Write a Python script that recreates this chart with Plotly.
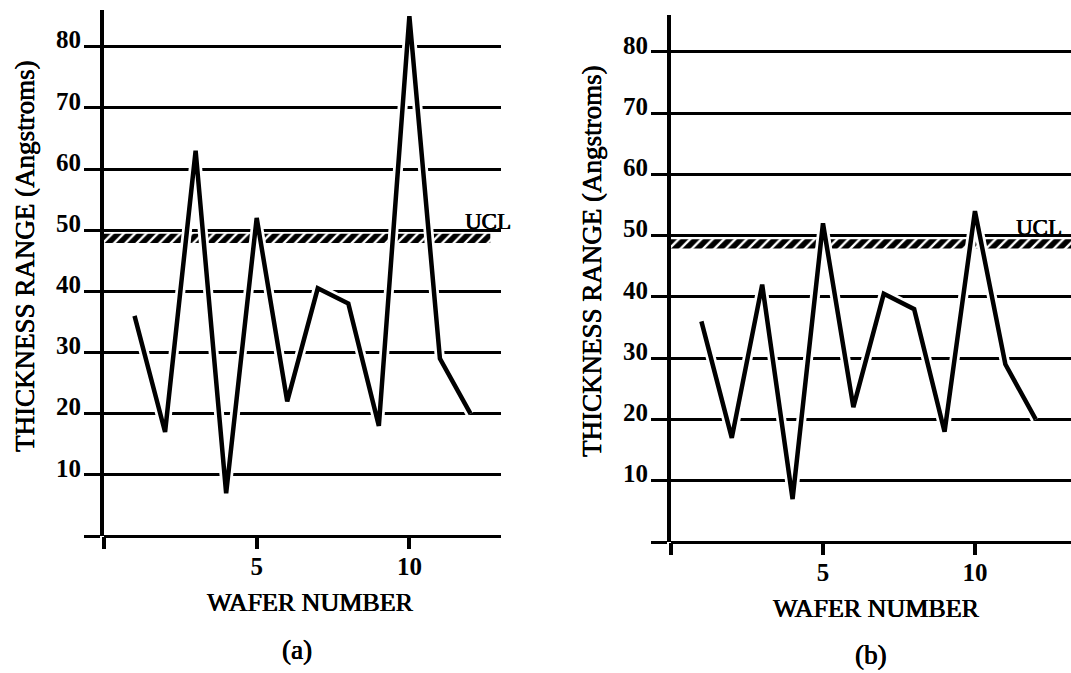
import plotly.graph_objects as go

# ---------------- data ----------------
wafer = [1, 2, 3, 4, 5, 6, 7, 8, 9, 10, 11, 12]
range_a = [36, 17, 63, 7, 52, 22, 40.5, 38, 18, 85, 29, 20]
range_b = [36, 17, 42, 7, 52, 22, 40.5, 38, 18, 54, 29, 20]
ucl_low = 47.9
ucl_high = 49.4
ucl_label = "UCL"
y_ticks = [0, 10, 20, 30, 40, 50, 60, 70, 80]
y_ticktext = ["", "10", "20", "30", "40", "50", "60", "70", "80"]
x_ticks = [0, 5, 10]
x_ticktext = ["", "5", "10"]
x_title = "WAFER NUMBER"
y_title = "THICKNESS RANGE (Angstroms)"
panel_labels = ["(a)", "(b)"]

FONT = "Liberation Serif, Times New Roman, serif"
SHADOW = "0.5px 0px 0px black, -0.3px 0px 0px black"
W, H = 1071, 673

fig = go.Figure()

panels = [
    dict(vals=range_a, xa="x", ya="y", band_end=12.65, ucl_x=11.75),
    dict(vals=range_b, xa="x2", ya="y2", band_end=13.3, ucl_x=11.3),
]

for p in panels:
    span = p["band_end"]
    # hatched UCL band
    fig.add_trace(go.Bar(
        x=[span / 2], y=[ucl_high - ucl_low], base=[ucl_low], width=[span],
        xaxis=p["xa"], yaxis=p["ya"],
        marker=dict(color="white", line=dict(width=0),
                    pattern=dict(shape="/", fgcolor="black", bgcolor="white",
                                 fgopacity=1, fillmode="replace",
                                 size=8, solidity=0.7)),
        hoverinfo="skip", showlegend=False,
    ))
    # white halo so hatch is interrupted around the trace
    fig.add_trace(go.Scatter(
        x=wafer, y=p["vals"], mode="lines", xaxis=p["xa"], yaxis=p["ya"],
        line=dict(color="white", width=10), hoverinfo="skip", showlegend=False,
    ))
    fig.add_trace(go.Scatter(
        x=wafer, y=p["vals"], mode="lines", xaxis=p["xa"], yaxis=p["ya"],
        line=dict(color="black", width=4.5), showlegend=False,
    ))

TICKFONT = dict(family=FONT, size=25, color="black", weight="bold")

def xax(domain, rng):
    return dict(domain=domain, range=rng, tickmode="array", tickvals=x_ticks,
                ticktext=x_ticktext, ticks="outside", ticklen=12, tickwidth=3.5,
                tickcolor="black", showgrid=False, zeroline=False, showline=False,
                tickfont=TICKFONT, ticklabelstandoff=-4, fixedrange=True)

def yax(domain, anchor):
    return dict(domain=domain, range=[0, 86], anchor=anchor, tickmode="array",
                tickvals=y_ticks, ticktext=y_ticktext, ticks="outside",
                ticklen=16, tickwidth=3, tickcolor="black", showgrid=True,
                gridcolor="black", gridwidth=3, zeroline=True,
                zerolinecolor="black", zerolinewidth=3, showline=True,
                linecolor="black", linewidth=4,
                tickfont=TICKFONT, ticklabelstandoff=-2, ticklabelshift=-7,
                fixedrange=True)

fig.update_layout(
    width=W, height=H, margin=dict(l=0, r=0, t=0, b=0),
    paper_bgcolor="white", plot_bgcolor="white", showlegend=False,
    barmode="overlay",
    xaxis=xax([104 / W, 501 / W], [0, 13]),
    yaxis=yax([1 - 536 / H, 1 - 10 / H], "x"),
    xaxis2=xax([671 / W, 1.0], [0, 13.16]),
    yaxis2=yax([1 - 542 / H, 1 - 15 / H], "x2"),
)
fig.update_layout(xaxis2=dict(anchor="y2"), xaxis=dict(anchor="y"))

ann = []
# UCL labels
for p in panels:
    ann.append(dict(x=p["ucl_x"], y=50, xref=p["xa"], yref=p["ya"],
                    text=ucl_label, showarrow=False, xanchor="left",
                    yanchor="bottom", yshift=-6,
                    font=dict(family=FONT, size=23, color="black",
                              shadow=SHADOW)))
# axis titles and panel labels
for xc, yc in [(310, 602), (876, 608)]:
    ann.append(dict(x=xc / W, y=1 - yc / H, xref="paper", yref="paper",
                    text=x_title, showarrow=False, xanchor="center",
                    yanchor="middle",
                    font=dict(family=FONT, size=26, color="black",
                              shadow=SHADOW)))
for xc, yc in [(25, 256), (592, 261)]:
    ann.append(dict(x=xc / W, y=1 - yc / H, xref="paper", yref="paper",
                    text=y_title, showarrow=False, textangle=-90,
                    xanchor="center", yanchor="middle",
                    font=dict(family=FONT, size=27, color="black",
                              shadow=SHADOW)))
for lab, (xc, yc) in zip(panel_labels, [(297, 650), (870, 655)]):
    ann.append(dict(x=xc / W, y=1 - yc / H, xref="paper", yref="paper",
                    text=lab, showarrow=False, xanchor="center",
                    yanchor="middle",
                    font=dict(family=FONT, size=27, color="black",
                              shadow=SHADOW)))
fig.update_layout(annotations=ann)

fig.write_html("out.html")
